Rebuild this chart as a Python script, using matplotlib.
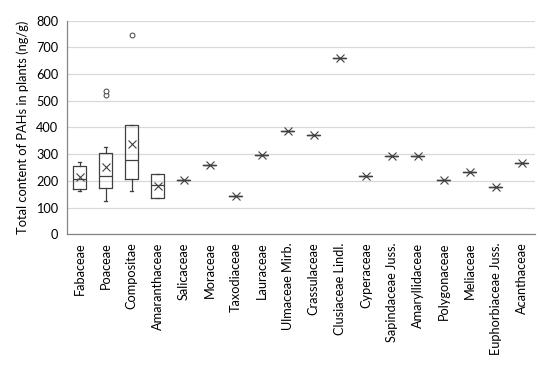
import matplotlib

matplotlib.use("Agg")

import matplotlib.pyplot as plt

families = [
    "Fabaceae", "Poaceae", "Compositae", "Amaranthaceae", "Salicaceae",
    "Moraceae", "Taxodiaceae", "Lauraceae", "Ulmaceae Mirb.", "Crassulaceae",
    "Clusiaceae Lindl.", "Cyperaceae", "Sapindaceae Juss.", "Amaryllidaceae",
    "Polygonaceae", "Meliaceae", "Euphorbiaceae Juss.", "Acanthaceae",
]

# box statistics for the families with several samples
whis_lo = [161, 124, 161, 136]
q1 = [171, 172, 208, 136]
median = [207, 218, 278, 185]
q3 = [256, 305, 410, 227]
whis_hi = [270, 328, 410, 227]
mean = [213, 253, 338, 182]
outliers = [[], [523, 538], [745], []]

# single-sample families
single = [203, 261, 145, 298, 387, 371, 660, 218, 294, 294, 202, 233, 178, 268]

stats = []
for i in range(len(q1)):
    stats.append(dict(whislo=whis_lo[i], q1=q1[i], med=median[i], q3=q3[i],
                      whishi=whis_hi[i], mean=mean[i], fliers=outliers[i]))
for v in single:
    stats.append(dict(whislo=v, q1=v, med=v, q3=v, whishi=v, mean=v, fliers=[]))

plt.rcParams["font.family"] = ["Lato", "DejaVu Sans"]

fig = plt.figure(figsize=(5.5, 3.67), dpi=100)
ax = fig.add_axes([0.1213, 0.3616, 0.8514, 0.582])

line_col = "#404040"
ax.bxp(
    stats,
    positions=range(1, len(families) + 1),
    widths=0.5,
    showmeans=True,
    patch_artist=False,
    boxprops=dict(color=line_col, lw=0.9),
    medianprops=dict(color=line_col, lw=0.9),
    whiskerprops=dict(color=line_col, lw=0.9),
    capprops=dict(color=line_col, lw=0.9),
    capwidths=0.12,
    meanprops=dict(marker="x", markeredgecolor=line_col, markersize=6, markeredgewidth=0.8),
    flierprops=dict(marker="o", markerfacecolor="white", markeredgecolor=line_col,
                    markersize=3.5, markeredgewidth=0.7),
)

ax.set_xlim(0.5, len(families) + 0.5)
ax.set_ylim(0, 800)
ax.set_yticks(range(0, 801, 100))
ax.set_xticks(range(1, len(families) + 1))
ax.set_xticklabels(families, rotation=90, fontsize=9.2)
ax.tick_params(axis="y", labelsize=9.2, length=0, pad=6)
ax.tick_params(axis="x", length=0, pad=6)
ax.yaxis.grid(True, color="#d9d9d9", lw=0.9)
ax.set_axisbelow(True)
for side in ("top", "right"):
    ax.spines[side].set_visible(False)
for side in ("left", "bottom"):
    ax.spines[side].set_color("#868686")
    ax.spines[side].set_linewidth(0.9)
ax.set_ylabel("Total content of PAHs in plants (ng/g)", fontsize=9.3, labelpad=5)

fig.savefig("out.png", dpi=100)
